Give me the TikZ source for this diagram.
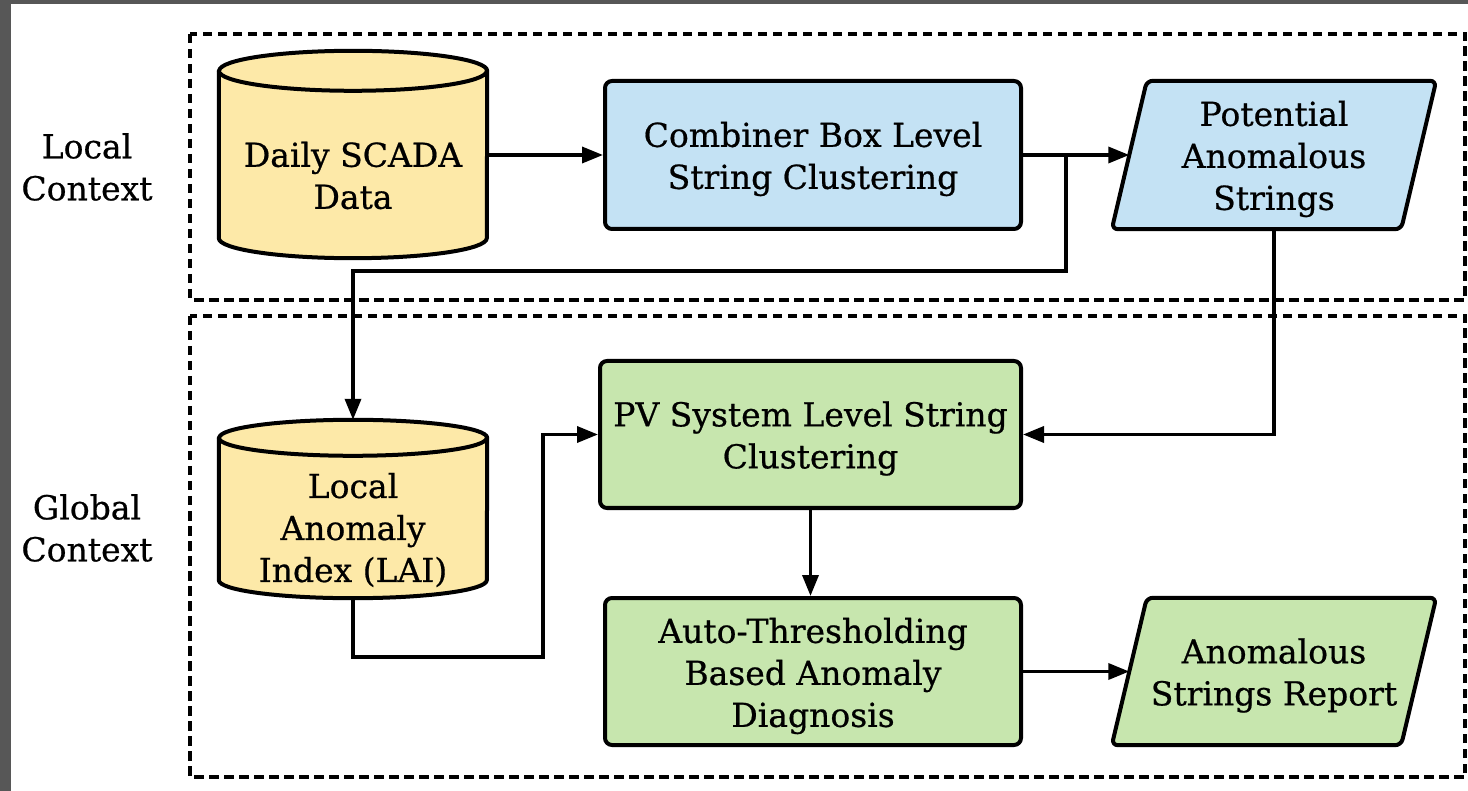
\documentclass[tikz,border=0pt]{standalone}
\usepackage{fontspec}
\setmainfont{DejaVu Serif}[FakeBold=0.6]
\usetikzlibrary{arrows.meta,calc}

\definecolor{framegray}{HTML}{575757}
\definecolor{drumfill}{HTML}{FDE9A8}
\definecolor{bluefill}{HTML}{C4E2F4}
\definecolor{greenfill}{HTML}{C7E6AE}

\tikzset{
  txt/.style={align=center, font=\fontsize{33}{42}\selectfont, inner sep=0pt},
  zone/.style={draw=black, line width=3.2pt, dash pattern=on 9.5pt off 5.5pt},
  procbox/.style={draw=black, line width=4pt, rounded corners=7pt, rectangle},
  holder/.style={rectangle, inner sep=0pt},
  outline/.style={draw=black, line width=4pt, line join=round},
  conn/.style={draw=black, line width=3.5pt, -{Triangle[length=21pt,width=16pt]}}
}

\begin{document}
\begin{tikzpicture}[x=1pt,y=-1pt]
\useasboundingbox (0,0) rectangle (1468,791);
% page frame
\fill[framegray] (0,0) rectangle (1468,791);
\fill[white] (11,4) rectangle (1468,791);

% context regions
\draw[zone] (190,34) rectangle (1465,300);
\draw[zone] (190,316) rectangle (1465,777);
\node[txt] (loclbl) at (87,167) {Local\\Context};
\node[txt] (glolbl) at (87,528) {Global\\Context};

% data stores (cylinders drawn around placeholder nodes)
\node[holder, minimum width=268pt, minimum height=207pt] (scada) at (353,154.5) {};
\node[holder, minimum width=268pt, minimum height=178pt] (lai) at (353,509) {};

\fill[drumfill] ([yshift=-20pt]scada.north west) -- ([yshift=20pt]scada.south west)
  arc[start angle=180, end angle=360, x radius=134pt, y radius=20pt]
  -- ([yshift=-20pt]scada.north east)
  arc[start angle=0, end angle=180, x radius=134pt, y radius=20pt] -- cycle;
\draw[outline] ([yshift=-20pt]scada.north west) -- ([yshift=20pt]scada.south west)
  arc[start angle=180, end angle=360, x radius=134pt, y radius=20pt]
  -- ([yshift=-20pt]scada.north east)
  arc[start angle=0, end angle=180, x radius=134pt, y radius=20pt] -- cycle;
\draw[outline] ([yshift=-20pt]scada.north west)
  arc[start angle=180, end angle=360, x radius=134pt, y radius=20pt];
\node[txt] (scadatext) at ($(scada.center)+(0,21)$) {Daily SCADA\\Data};

\fill[drumfill] ([yshift=-18pt]lai.north west) -- ([yshift=18pt]lai.south west)
  arc[start angle=180, end angle=360, x radius=134pt, y radius=18pt]
  -- ([yshift=-18pt]lai.north east)
  arc[start angle=0, end angle=180, x radius=134pt, y radius=18pt] -- cycle;
\draw[outline] ([yshift=-18pt]lai.north west) -- ([yshift=18pt]lai.south west)
  arc[start angle=180, end angle=360, x radius=134pt, y radius=18pt]
  -- ([yshift=-18pt]lai.north east)
  arc[start angle=0, end angle=180, x radius=134pt, y radius=18pt] -- cycle;
\draw[outline] ([yshift=-18pt]lai.north west)
  arc[start angle=180, end angle=360, x radius=134pt, y radius=18pt];
\node[txt] (laitext) at ($(lai.center)+(0,21)$) {Local\\Anomaly\\Index (LAI)};

% processing steps
\node[procbox, fill=bluefill, minimum width=416pt, minimum height=148pt] (comb) at (813,155) {};
\node[txt] (combtext) at ($(comb.center)+(0,4)$) {Combiner Box Level\\String Clustering};
\node[procbox, fill=greenfill, minimum width=421pt, minimum height=147pt] (pv) at (810.5,434.5) {};
\node[txt] (pvtext) at ($(pv.center)+(0,4)$) {PV System Level String\\Clustering};
\node[procbox, fill=greenfill, minimum width=416pt, minimum height=147pt] (auto) at (813,671.5) {};
\node[txt] (autotext) at ($(auto.center)+(0,4.5)$) {Auto-Thresholding\\Based Anomaly\\Diagnosis};

% outputs (parallelograms drawn around placeholder nodes)
\node[holder, minimum width=289pt, minimum height=148pt] (pot) at (1274,155) {};
\filldraw[outline, fill=bluefill, rounded corners=6pt]
  ([xshift=17.5pt]pot.north west) -- ([xshift=17.5pt]pot.north east)
  -- ([xshift=-17.5pt]pot.south east) -- ([xshift=-17.5pt]pot.south west) -- cycle;
\node[txt] (pottext) at ($(pot.center)+(0,4)$) {Potential\\Anomalous\\Strings};

\node[holder, minimum width=289pt, minimum height=147pt] (rep) at (1274,671.5) {};
\filldraw[outline, fill=greenfill, rounded corners=6pt]
  ([xshift=17.5pt]rep.north west) -- ([xshift=17.5pt]rep.north east)
  -- ([xshift=-17.5pt]rep.south east) -- ([xshift=-17.5pt]rep.south west) -- cycle;
\node[txt] (reptext) at ($(rep.center)+(0,4)$) {Anomalous\\Strings Report};

% connectors
\coordinate (split) at (1066,155);
\coordinate (splitlow) at (1066,271);
\coordinate (laiout) at (543,657);

\draw[conn] (scada.east |- comb.west) -- (comb.west);
\draw[conn] (comb.east) -- (pot.west);
\draw[conn] (split) -- (splitlow) -| (lai.north);
\draw[conn] (lai.south) |- (laiout) |- (pv.west);
\draw[conn] (pot.south) |- (pv.east);
\draw[conn] (pv.south) -- (pv.south |- auto.north);
\draw[conn] (auto.east) -- (rep.west);
\end{tikzpicture}
\end{document}
